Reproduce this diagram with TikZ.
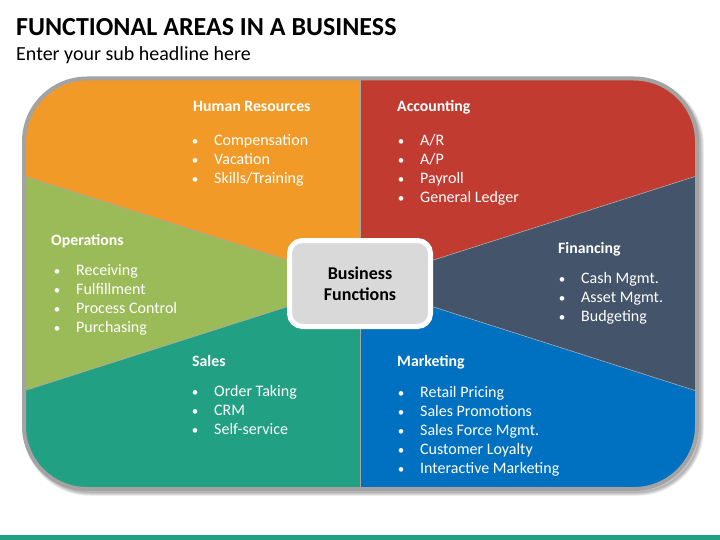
\documentclass[tikz,border=0pt]{standalone}
\usepackage{fontspec}
\setmainfont{Carlito}
\definecolor{cOr}{HTML}{F29A27}
\definecolor{cRed}{HTML}{C23B31}
\definecolor{cSlate}{HTML}{44546A}
\definecolor{cBlue}{HTML}{0070C0}
\definecolor{cTeal}{HTML}{21A084}
\definecolor{cGreen}{HTML}{9BBB59}
\definecolor{cBox}{HTML}{D9D9D9}
\definecolor{cRim}{HTML}{A3A3A3}
\newcommand\secblock[7]{% name, hx, hy, tx, first baseline, header, items
  \node[hdr] (#1) at (#2,{#3+2}) {#6};
  \foreach \t [count=\i] in {#7} {
    \node[itm] (#1-\i) at (#4,{#5+1+19.1*(\i-1)}) {\t};
    \node[bul] (#1-b\i) at ({#4-19},{#5+1+19.1*(\i-1)}) {\textbullet};
  }
}
\begin{document}
\begin{tikzpicture}[x=1pt,y=-1pt,
  hdr/.style={anchor=base west,inner sep=0pt,text=white,font=\bfseries\fontsize{15.8}{18}\selectfont},
  itm/.style={anchor=base west,inner sep=0pt,text=white,font=\fontsize{16}{19}\selectfont},
  bul/.style={anchor=base,inner sep=0pt,text=white,font=\fontsize{13}{19}\selectfont},
  divider/.style={draw=black!35,line width=0.6pt}]
\useasboundingbox (0,0) rectangle (720,540);
% title
\node[anchor=base west,inner sep=0pt,font=\bfseries\fontsize{26}{30}\selectfont] (title) at (16,36) {FUNCTIONAL AREAS IN A BUSINESS};
\node[anchor=base west,inner sep=0pt,font=\fontsize{20}{24}\selectfont] (sub) at (16,61) {Enter your sub headline here};
% shadow
\foreach \w in {1,2,...,8}
  \draw[black,opacity=0.045,line width=\w pt,rounded corners=63pt] (27,82) rectangle (700,492);
% regions
\coordinate (C) at (360,283.5);
\begin{scope}
  \clip[rounded corners=63pt] (24,78.5) rectangle (697,489);
  \fill[cOr] (0,60) -- (360,60) -- (C) -- (0,168.5) -- cycle;
  \fill[cRed] (360,60) -- (720,60) -- (720,168.5) -- (C) -- cycle;
  \fill[cSlate] (720,168.5) -- (720,398.5) -- (C) -- cycle;
  \fill[cBlue] (720,398.5) -- (720,510) -- (360,510) -- (C) -- cycle;
  \fill[cTeal] (360,510) -- (0,510) -- (0,398.5) -- (C) -- cycle;
  \fill[cGreen] (0,398.5) -- (0,168.5) -- (C) -- cycle;
  \draw[divider] (0,168.5) -- (C) -- (720,168.5);
  \draw[divider] (0,398.5) -- (C) -- (720,398.5);
  \draw[divider] (360,60) -- (360,510);
\end{scope}
\draw[cRim,line width=4pt,rounded corners=63pt] (24,78.5) rectangle (697,489);
% center box
\node[draw=white,line width=5pt,fill=cBox,rounded corners=13pt,minimum width=141pt,minimum height=86pt,
  align=center,inner sep=0pt,font=\bfseries\fontsize{18}{21}\selectfont] (center) at (C) {Business\\Functions};
% sections
\secblock{hr}{193}{110}{214}{144.5}{Human Resources}{Compensation,Vacation,Skills/Training}
\secblock{acc}{397}{110}{420}{144.5}{Accounting}{A/R,A/P,Payroll,General Ledger}
\secblock{ops}{51}{243}{76}{274.5}{Operations}{Receiving,Fulfillment,Process Control,Purchasing}
\secblock{fin}{558}{251}{581}{282.5}{Financing}{Cash Mgmt.,Asset Mgmt.,Budgeting}
\secblock{sal}{192}{364}{214}{395.5}{Sales}{Order Taking,CRM,Self-service}
\secblock{mkt}{397}{364}{420}{396}{Marketing}{Retail Pricing,Sales Promotions,Sales Force Mgmt.,Customer Loyalty,Interactive Marketing}
% bottom bar
\fill[cTeal] (0,535) rectangle (720,540);
\end{tikzpicture}
\end{document}
